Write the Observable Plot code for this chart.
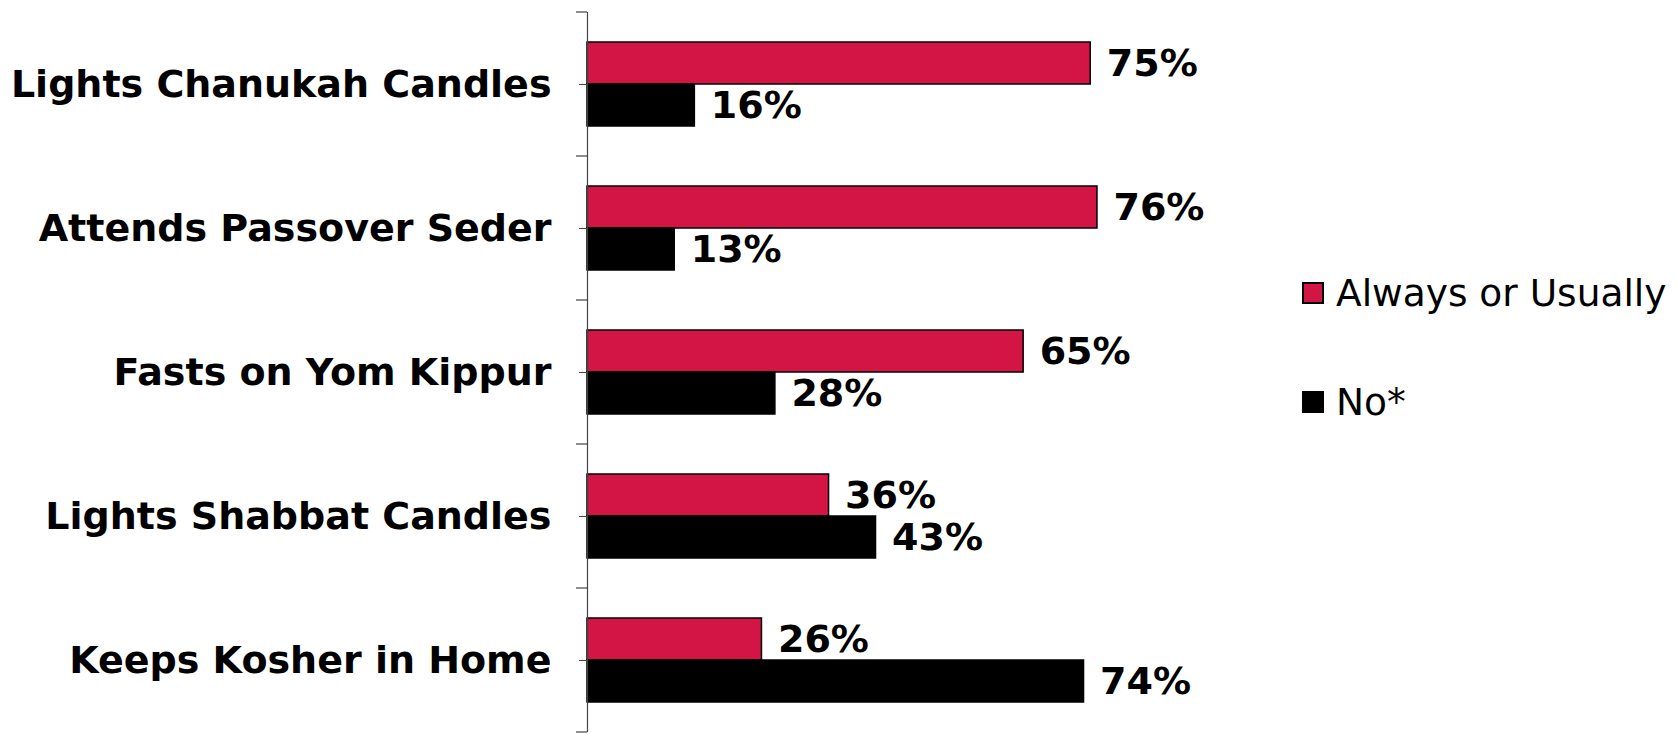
<!DOCTYPE html>
<html>
<head>
<meta charset="utf-8">
<script src="https://cdn.jsdelivr.net/npm/d3@7"></script>
<script src="https://cdn.jsdelivr.net/npm/@observablehq/plot@0.6"></script>
<style>
  html, body { margin: 0; padding: 0; background: #fff; }
  #wrap { position: relative; width: 1678px; height: 733px; overflow: hidden; font-family: "DejaVu Sans", Verdana, sans-serif; }
  .leg { position: absolute; left: 1302px; display: flex; align-items: center; font-size: 37.5px; color: #000; white-space: nowrap; }
  .sw { box-sizing: border-box; width: 22px; height: 22px; margin-right: 12px; border: 2px solid #000; }
</style>
</head>
<body>
<div id="wrap"></div>
<script>
const categories = ["Lights Chanukah Candles", "Attends Passover Seder", "Fasts on Yom Kippur", "Lights Shabbat Candles", "Keeps Kosher in Home"];
const series = ["Always or Usually", "No*"];
const alwaysValues = [75, 76, 65, 36, 26];
const noValues = [16, 13, 28, 43, 74];
const colors = ["#D31545", "#000000"];

const data = [];
categories.forEach((c, i) => {
  data.push({category: c, series: series[0], value: alwaysValues[i]});
  data.push({category: c, series: series[1], value: noValues[i]});
});

const chart = Plot.plot({
  width: 1678,
  height: 733,
  marginLeft: 587,
  marginRight: 420,
  marginTop: 10,
  marginBottom: 0,
  style: {fontFamily: "DejaVu Sans, Verdana, sans-serif", color: "#000", background: "#fff"},
  x: {domain: [0, 100], axis: null},
  y: {domain: series, paddingInner: 0, paddingOuter: 0.7, axis: null},
  fy: {domain: categories, padding: 0, label: null},
  color: {domain: series, range: colors},
  marks: [
    Plot.barX(data, {x: "value", y: "series", fy: "category", fill: "series", stroke: "#000", strokeWidth: 1.5}),
    Plot.text(data, {x: "value", y: "series", fy: "category", text: d => d.value + "%", textAnchor: "start", dx: 16, fontSize: 38, fontWeight: "bold", fill: "#000"}),
    Plot.ruleX([0], {stroke: "#444", strokeWidth: 1.2}),
    Plot.axisFy({anchor: "left", tickSize: 8, tickPadding: 28, fontSize: 38, fontWeight: "bold", label: null, stroke: "#444"})
  ]
});

document.getElementById("wrap").appendChild(chart);

// boundary ticks between categories
const fy = chart.scale("fy");
const x0 = chart.scale("x").apply(0);
const svg = d3.select(chart);
const bounds = categories.map(c => fy.apply(c));
bounds.push(bounds[bounds.length - 1] + fy.step);
svg.append("g").selectAll("line").data(bounds).join("line")
  .attr("x1", x0 - 11).attr("x2", x0)
  .attr("y1", d => d).attr("y2", d => d)
  .attr("stroke", "#444").attr("stroke-width", 1.2);

// legend
const legendCenters = [293, 402];
series.forEach((s, i) => {
  const div = document.createElement("div");
  div.className = "leg";
  div.style.top = (legendCenters[i] - 22) + "px";
  div.style.height = "44px";
  const sw = document.createElement("span");
  sw.className = "sw";
  sw.style.background = colors[i];
  const t = document.createElement("span");
  t.textContent = s;
  div.appendChild(sw);
  div.appendChild(t);
  document.getElementById("wrap").appendChild(div);
});
</script>
</body>
</html>
